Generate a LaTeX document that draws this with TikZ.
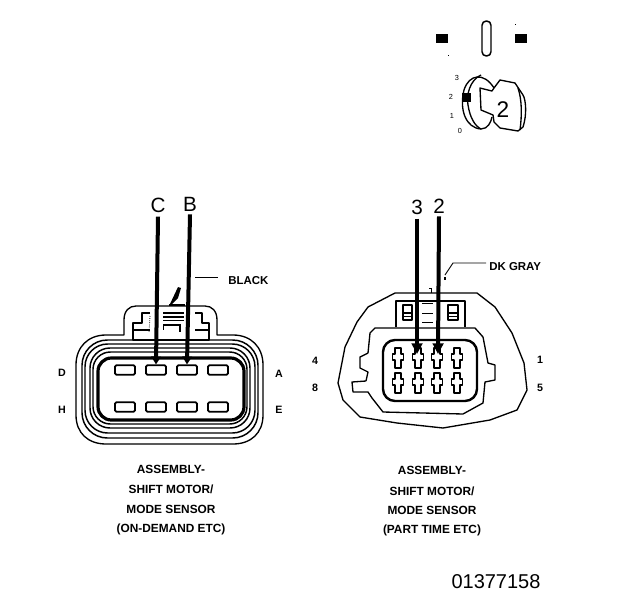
\documentclass[tikz,border=0pt]{standalone}
\usepackage{fontspec}
\setmainfont{Liberation Sans}
\usetikzlibrary{arrows.meta,calc}
\tikzset{
  x=0.75pt,y=-0.75pt,
  lbl/.style={inner sep=0pt,font=\bfseries\fontsize{8}{9}\selectfont},
  lblwide/.style={inner sep=0pt,font=\bfseries\fontsize{8.6}{9}\selectfont},
  biglbl/.style={inner sep=0pt,font=\fontsize{15.5}{17}\selectfont},
  codetext/.style={inner sep=0pt,font=\fontsize{15}{17}\selectfont},
  captext/.style={inner sep=0pt,font=\bfseries\fontsize{8.9}{10}\selectfont},
  sm/.style={inner sep=0pt,font=\fontsize{5.5}{6}\selectfont},
  pinbox/.style={draw,line width=1.3pt,rounded corners=1pt,minimum width=15pt,minimum height=7pt,inner sep=0pt},
  ptr/.style={line width=3pt,-{Triangle[length=6pt,width=7pt]},shorten >=0pt},
  ptrb/.style={line width=3pt,-{Triangle[length=8pt,width=8pt]}},
  ln/.style={line width=1pt,line join=round},
  ring/.style={line width=1.1pt},
  pic pin/.style={line width=1pt,fill=white,line join=round}
}
\newcommand{\termpin}[2]{%
  \draw[pic pin] ($(#1,#2)+(-3,-8)$) -- ++(6,0) -- ++(0,6) -- ++(2.5,0) -- ++(0,6) -- ++(-2.5,0) -- ++(0,8) -- ++(-6,0) -- ++(0,-8) -- ++(-2.5,0) -- ++(0,-6) -- ++(2.5,0) -- cycle;}
\begin{document}
\begin{tikzpicture}
\useasboundingbox (0,0) rectangle (624,600);
\fill[white] (0,0) rectangle (624,600);

% ---- switch icon
\fill (436,34) rectangle (448,43);
\fill (515,34) rectangle (527,43);
\draw[line width=1.1pt,rounded corners=3.2pt] (482,21) rectangle (491,56);
\fill (448,55) rectangle (449,56);
\fill (515,24) rectangle (516,25);
\draw[ln] (494,88) .. controls (484,72) and (469,74) .. (464,90) .. controls (459,110) and (466,128) .. (481,129) .. controls (488,129) and (491,122) .. (492,117);
\draw[ln] (481,75) .. controls (470,80) and (466,95) .. (468,105) .. controls (470,118) and (475,126) .. (481,129);
\draw[ln] (480,88) -- (481,110) -- (493,115) -- (494,122) -- (500,128) -- (518,131) -- (523,127) .. controls (527,115) and (526,100) .. (523,95) -- (515,83) -- (500,80) -- (494,88) -- (492,91) -- (484,89) -- cycle;
\draw[ln] (518,88) .. controls (522,100) and (522,115) .. (520,130);
\fill (462,93) rectangle (471,102);
\node[sm] (k3) at (457,78) {3};
\node[sm] (k2) at (451,97) {2};
\node[sm] (k1) at (452,116) {1};
\node[sm] (k0) at (460,131) {0};
\node[inner sep=0pt,font=\fontsize{17}{19}\selectfont] (kbig) at (503,110) {2};

% ---- left connector
\draw[ln] (76,365) .. controls (76,347) and (88,335) .. (106,335) -- (124,335) -- (124,320) .. controls (124,311) and (129,306) .. (136,306) -- (205,306) .. controls (212,306) and (217,311) .. (217,320) -- (217,335) -- (233,335) .. controls (251,335) and (263,347) .. (263,365) -- (263,415) .. controls (263,433) and (251,444) .. (233,444) -- (106,444) .. controls (88,444) and (76,433) .. (76,415) -- cycle;
\draw[ring,rounded corners=19pt] (82,340) rectangle (258,438);
\draw[ring,rounded corners=17pt] (85,344) rectangle (255,433);
\draw[ring,rounded corners=15pt] (90,348) rectangle (250,428);
\draw[ring,rounded corners=13pt] (93,352) rectangle (247,424);
\draw[line width=2.4pt,rounded corners=10pt] (98,358) rectangle (244,420);
% latch
\draw[ln] (150,313) -- (142,313) -- (142,323) -- (133,323) -- (133,340) -- (209,340) -- (209,323) -- (202,323) -- (202,313) -- (195,313);
\draw[ln] (133,330) -- (150,330) (195,330) -- (209,330);
\draw[line width=1.2pt] (163,325) -- (180,325) -- (180,332);
\draw[line width=1.2pt] (163,313) -- (184,313);
\draw[line width=1.2pt] (163,317) -- (184,317);
\draw[line width=1.2pt] (163,320.5) -- (184,320.5);
\draw[line width=0.7pt] (163,325) -- (163,330);
\draw[line width=0.6pt,densely dotted] (150,316) -- (149,333);
% wedge
\fill (170,304) -- (178,287) -- (181,288) -- (178,298) -- (172,304) -- cycle;
\draw[line width=0.8pt] (169,305) -- (185,305);
% pins
\foreach \n/\xx in {a/125,b/156,c/187,d/218}{
  \node[pinbox] (top\n) at (\xx,370) {};
  \node[pinbox] (bot\n) at (\xx,407) {};
}
\node[biglbl] (C) at (158,205) {C};
\node[biglbl] (B) at (190,204) {B};
\draw[ptr] ($(C.south)+(0,4)$) -- (topb.north);
\draw[ptr] ($(B.south)+(0,3)$) -- (topc.north);
\node[lbl] (Dl) at (62,373) {D};
\node[lbl] (Hl) at (62,410) {H};
\node[lbl] (Al) at (279,374) {A};
\node[lbl] (El) at (279,410) {E};
\node[lblwide,anchor=west] (black) at (228,281) {BLACK};
\coordinate (blk) at (195,277);
\draw[line width=0.7pt] (blk) -- (218,277);

% ---- right connector
\draw[ln] (368,307) -- (395,293) -- (477,293) -- (495,307) -- (512,333) -- (524,363) -- (527,390) -- (517,410) -- (490,420) -- (443,428) -- (397,423) -- (360,417) -- (343,400) -- (338,383) -- (345,347) -- (357,322) -- cycle;
\draw[ln] (368,353) -- (370,333) -- (375,328) -- (475,328) -- (483,337) -- (488,363) -- (495,365) -- (495,380) -- (485,382) -- (483,403) -- (463,414) -- (383,412) -- (372,398) -- (368,392) -- (353,392) -- (352,382) -- (366,381);
\draw[ln] (368,353) -- (360,357) -- (360,368) -- (368,372) -- (366,381);
\draw[ln] (396,327) -- (396,301) -- (465,301) -- (465,327);
\draw[line width=1.8pt,rounded corners=9pt] (383,340) rectangle (477,401);
\draw[ln] (403,305) rectangle (412,320);
\draw[ln] (448,305) rectangle (458,320);
\draw[line width=0.8pt] (404,313) -- (411,313) (404,316.5) -- (411,316.5) (449,313) -- (457,313) (449,316.5) -- (457,316.5);
\draw[line width=0.7pt] (422,303) -- (433,303) (422,313) -- (433,313) (422,322) -- (433,322);
\foreach \xx in {398,418,437,457}{
  \termpin{\xx}{356}
  \termpin{\xx}{381}
}
\coordinate (p3) at (417,354);
\coordinate (p2) at (438,354);
\node[biglbl] (L3) at (417,207) {3};
\node[biglbl] (L2) at (439,206) {2};
\draw[ptrb] ($(L3.south)+(0,4)$) -- (p3);
\draw[ptrb] ($(L2.south)+(0,3)$) -- (p2);
\node[lblwide,anchor=west] (dk) at (489,267) {DK GRAY};
\coordinate (dk1) at (445,275);
\draw[line width=0.7pt] (dk1) -- (453,263) -- (486,263);
\fill (444,277) rectangle (446,280);
\draw[line width=0.7pt] (429,288) -- (431,288) -- (431,293);
\node[lbl] (n4) at (315,361) {4};
\node[lbl] (n8) at (315,388) {8};
\node[lbl] (n1) at (540,360) {1};
\node[lbl] (n5) at (540,388) {5};

% ---- captions
\node[captext] (l1) at (171,469) {ASSEMBLY-};
\node[captext] (l2) at (171,489) {SHIFT MOTOR/};
\node[captext] (l3) at (171,509) {MODE SENSOR};
\node[captext] (l4) at (171,529) {(ON-DEMAND ETC)};
\node[captext] (r1) at (432,470) {ASSEMBLY-};
\node[captext] (r2) at (432,491) {SHIFT MOTOR/};
\node[captext] (r3) at (432,510) {MODE SENSOR};
\node[captext] (r4) at (432,530) {(PART TIME ETC)};
\node[codetext] (code) at (496,582) {01377158};
\end{tikzpicture}
\end{document}
